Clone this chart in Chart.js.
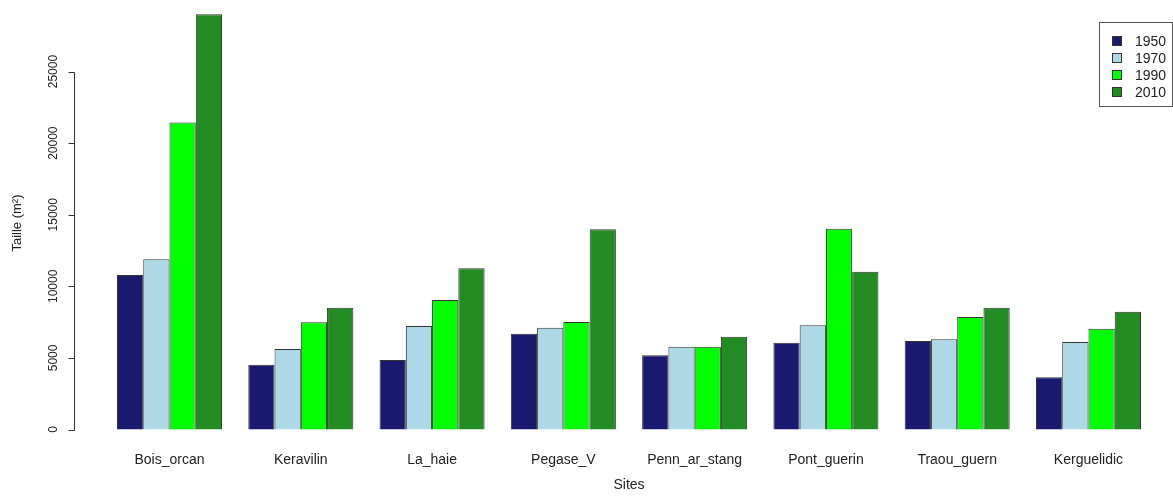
<!DOCTYPE html>
<html>
<head>
<meta charset="utf-8">
<script src="https://cdn.jsdelivr.net/npm/chart.js@4"></script>
<style>
  html, body { margin: 0; padding: 0; background: #ffffff; overflow: hidden; }
  #wrap { position: relative; width: 1190px; height: 501px; }
</style>
</head>
<body>
<div id="wrap"><canvas id="chart"></canvas></div>
<script>
// Sites surveyed and the surface area (m²) measured for each year
const categories = ['Bois_orcan', 'Keravilin', 'La_haie', 'Pegase_V', 'Penn_ar_stang', 'Pont_guerin', 'Traou_guern', 'Kerguelidic'];
const years = ['1950', '1970', '1990', '2010'];
const taille1950 = [10800, 4520, 4850, 6690, 5180, 6060, 6180, 3650];
const taille1970 = [11900, 5620, 7230, 7110, 5780, 7280, 6300, 6110];
const taille1990 = [21450, 7490, 9040, 7510, 5780, 14020, 7860, 7040];
const taille2010 = [29000, 8500, 11260, 13980, 6480, 11020, 8500, 8230];
const yTicks = [0, 5000, 10000, 15000, 20000, 25000];

const series = [taille1950, taille1970, taille1990, taille2010];
const colors = ['#191970', '#ADD8E6', '#00FF00', '#228B22'];
const ink = '#222222';
const font = 'Liberation Sans, Arial, Helvetica, sans-serif';

// y axis line (from first to last tick), tick marks, rotated tick labels and the boxed legend
const baseAxisAndLegend = {
  id: 'baseAxisAndLegend',
  afterDraw(chart) {
    const ctx = chart.ctx;
    const y = chart.scales.y;
    const ax = Math.round(chart.chartArea.left) - 0.5;
    ctx.save();
    ctx.strokeStyle = '#333333';
    ctx.lineWidth = 1;
    ctx.beginPath();
    ctx.moveTo(ax, Math.round(y.getPixelForValue(yTicks[0])) + 0.5);
    ctx.lineTo(ax, Math.round(y.getPixelForValue(yTicks[yTicks.length - 1])) + 0.5);
    yTicks.forEach(v => {
      const py = Math.round(y.getPixelForValue(v)) + 0.5;
      ctx.moveTo(ax - 6, py);
      ctx.lineTo(ax, py);
    });
    ctx.stroke();

    ctx.fillStyle = ink;
    ctx.font = '12px ' + font;
    ctx.textAlign = 'center';
    ctx.textBaseline = 'middle';
    yTicks.forEach(v => {
      const py = y.getPixelForValue(v);
      ctx.save();
      ctx.translate(ax - 21, py);
      ctx.rotate(-Math.PI / 2);
      ctx.fillText(String(v), 0, 0);
      ctx.restore();
    });

    // legend
    const left = 1099.5, top = 22.5, right = 1172.5, bottom = 106.5;
    ctx.strokeStyle = '#555555';
    ctx.strokeRect(left, top, right - left, bottom - top);
    ctx.font = '14px ' + font;
    ctx.textBaseline = 'middle';
    ctx.textAlign = 'left';
    chart.data.datasets.forEach((ds, i) => {
      const cy = 41 + i * 17;
      ctx.fillStyle = ds.backgroundColor;
      ctx.fillRect(1112, cy - 5, 10, 10);
      ctx.strokeStyle = '#333333';
      ctx.strokeRect(1112.5, cy - 4.5, 9, 9);
      ctx.fillStyle = ink;
      ctx.fillText(ds.label, 1135, cy + 1);
    });
    ctx.restore();
  }
};

new Chart(document.getElementById('chart'), {
  type: 'bar',
  data: {
    datasets: years.map((yr, k) => ({
      label: yr,
      data: series[k].map((v, i) => ({ x: i, y: v })),
      backgroundColor: colors[k],
      borderColor: '#333333',
      borderWidth: 1,
      categoryPercentage: 0.8,
      barPercentage: 1.0
    }))
  },
  options: {
    responsive: true,
    maintainAspectRatio: false,
    animation: false,
    layout: { padding: { left: 0, right: 7, top: 0, bottom: 0 } },
    plugins: {
      legend: { display: false },
      tooltip: { enabled: false }
    },
    scales: {
      x: {
        type: 'linear',
        offset: false,
        min: -0.72,
        max: 7.72,
        grid: { display: false, drawTicks: false, offset: false },
        border: { display: false },
        afterBuildTicks: s => { s.ticks = categories.map((_, i) => ({ value: i })); },
        afterFit: s => { s.height = 55; },
        ticks: {
          autoSkip: false,
          maxRotation: 0,
          padding: 6,
          color: ink,
          font: { family: font, size: 14 },
          callback: v => categories[v]
        },
        title: {
          display: true,
          text: 'Sites',
          color: ink,
          font: { family: font, size: 14 },
          padding: { top: 0, bottom: 7 }
        }
      },
      y: {
        min: -1150,
        max: 30000,
        grid: { display: false, drawTicks: false },
        border: { display: false },
        afterFit: s => { s.width = 75; },
        ticks: { display: false },
        title: {
          display: true,
          text: 'Taille (m²)',
          color: ink,
          font: { family: font, size: 13 },
          padding: { top: 10, bottom: 0 }
        }
      }
    }
  },
  plugins: [baseAxisAndLegend]
});
</script>
</body>
</html>
